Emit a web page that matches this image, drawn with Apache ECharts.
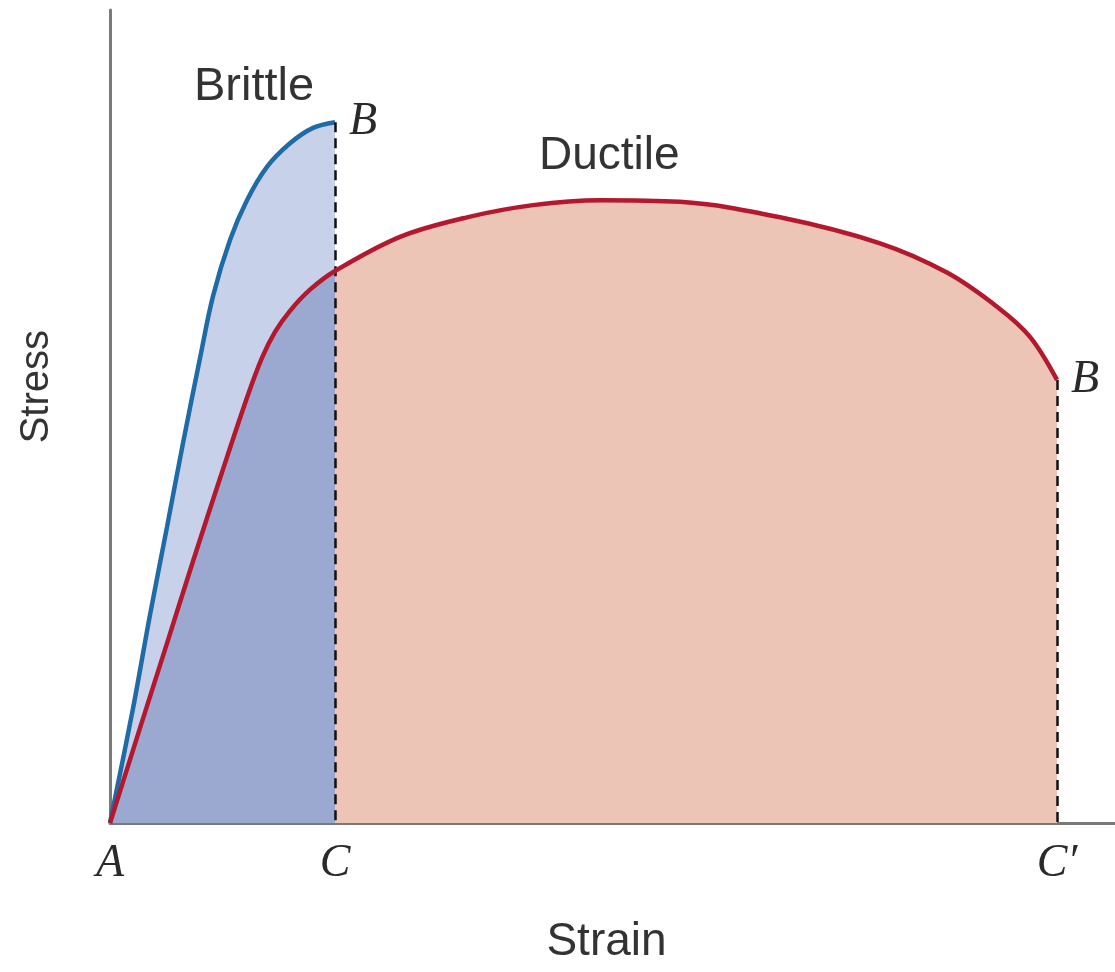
<!DOCTYPE html>
<html>
<head>
<meta charset="utf-8">
<title>Stress-strain: brittle vs ductile</title>
<script src="https://cdn.jsdelivr.net/npm/echarts@6/dist/echarts.min.js"></script>
<style>
  html, body { margin: 0; padding: 0; background: #fff; }
  #chart { width: 1115px; height: 972px; }
</style>
</head>
<body>
<div id="chart"></div>
<script>
// brittle curve (A -> B, breaks at C)
var brittleStrain = [0, 2.29, 3.98, 5.67, 7.26, 8.96, 10.25, 11.94, 13.63, 15.62, 17.91, 20.2, 22.39];
var brittleStress = [0, 14.1, 25.6, 36.4, 46.7, 57.2, 64.8, 71.7, 76.6, 80.7, 83.6, 85.5, 86.2];

// ductile curve (A -> B, breaks at C')
var ductileStrain = [0, 2.99, 5.67, 8.26, 10.95, 13.63, 15.12, 16.42, 17.91, 19.9, 22.39, 28.86, 35.52, 42.09, 48.76, 56.7, 66.67, 76.62, 83.28, 88.26, 91.54, 94.23];
var ductileStress = [0, 11.7, 22.1, 32.2, 42.4, 52.3, 57.2, 60.4, 63.0, 65.6, 67.9, 72.1, 74.5, 76.0, 76.6, 76.4, 74.5, 71.3, 67.7, 63.5, 59.8, 54.5];

var tickLabels = ['A', 'C', 'C\u2032'];

function pairs(xs, ys) {
  var out = [];
  for (var i = 0; i < xs.length; i++) out.push([xs[i], ys[i]]);
  return out;
}

var brittle = pairs(brittleStrain, brittleStress);
var ductile = pairs(ductileStrain, ductileStress);
var breakC = brittleStrain[brittleStrain.length - 1];
var breakC2 = ductileStrain[ductileStrain.length - 1];
// part of the ductile area that lies under the brittle one
var overlap = ductile.filter(function (p) { return p[0] <= breakC; });
var tickValues = [0, breakC, breakC2];
var sm = 0.35;

var sans = 'Liberation Sans';
var endLbl = { show: true, formatter: 'B', distance: 14,
  fontFamily: 'Liberation Serif', fontStyle: 'italic', fontSize: 46, color: '#2a2a2a' };

var chart = echarts.init(document.getElementById('chart'));
chart.setOption({
  animation: false,
  grid: { left: 110, right: 0, top: 10, bottom: 149 },
  xAxis: {
    type: 'value', min: 0, max: 100,
    splitLine: { show: false },
    axisTick: { show: false },
    axisLine: { lineStyle: { color: '#7a7a7a', width: 3 } },
    axisLabel: {
      customValues: tickValues,
      margin: 18,
      fontFamily: 'Liberation Serif', fontStyle: 'italic', fontSize: 46, color: '#2a2a2a',
      formatter: function (v) {
        var i = tickValues.indexOf(v);
        return i >= 0 ? tickLabels[i] : '';
      }
    },
    name: 'Strain', nameLocation: 'middle', nameGap: 96,
    nameTextStyle: { fontFamily: sans, fontSize: 46, color: '#333', padding: [0, 12, 0, 0] }
  },
  yAxis: {
    type: 'value', min: 0, max: 100,
    splitLine: { show: false },
    axisTick: { show: false },
    axisLabel: { show: false },
    axisLine: { lineStyle: { color: '#7a7a7a', width: 3 } }
  },
  graphic: [
    { type: 'text', left: 17, top: 330, rotation: Math.PI / 2,
      style: { text: 'Stress', font: '40px "Liberation Sans"', fill: '#333' } },
    { type: 'text', left: 194, top: 64,
      style: { text: 'Brittle', font: '47px "Liberation Sans"', fill: '#333' } },
    { type: 'text', left: 539, top: 133,
      style: { text: 'Ductile', font: '46px "Liberation Sans"', fill: '#333' } }
  ],
  series: [
    {
      type: 'line', data: brittle, smooth: sm, showSymbol: false,
      lineStyle: { width: 0 }, areaStyle: { color: '#c7d2ea', opacity: 1 }, z: 1, silent: true
    },
    {
      type: 'line', data: ductile, smooth: sm, showSymbol: false,
      lineStyle: { width: 0 }, areaStyle: { color: '#edc5b7', opacity: 1 }, z: 2, silent: true
    },
    {
      type: 'line', data: overlap, smooth: sm, showSymbol: false,
      lineStyle: { width: 0 }, areaStyle: { color: '#9ba8d0', opacity: 1 }, z: 3, silent: true,
      markLine: {
        silent: true, symbol: 'none', label: { show: false },
        lineStyle: { color: '#111', type: [10, 6], width: 2.5 },
        data: [
          [{ coord: [breakC, brittleStress[brittleStress.length - 1]] }, { coord: [breakC, 0] }],
          [{ coord: [breakC2, ductileStress[ductileStress.length - 1]] }, { coord: [breakC2, 0] }]
        ]
      }
    },
    {
      name: 'Brittle', type: 'line', data: brittle, smooth: sm, showSymbol: false,
      lineStyle: { color: '#1f6ba6', width: 4.5 }, z: 4, endLabel: endLbl
    },
    {
      name: 'Ductile', type: 'line', data: ductile, smooth: sm, showSymbol: false,
      lineStyle: { color: '#b3182f', width: 4.5 }, z: 5, endLabel: endLbl
    }
  ]
});
</script>
</body>
</html>
